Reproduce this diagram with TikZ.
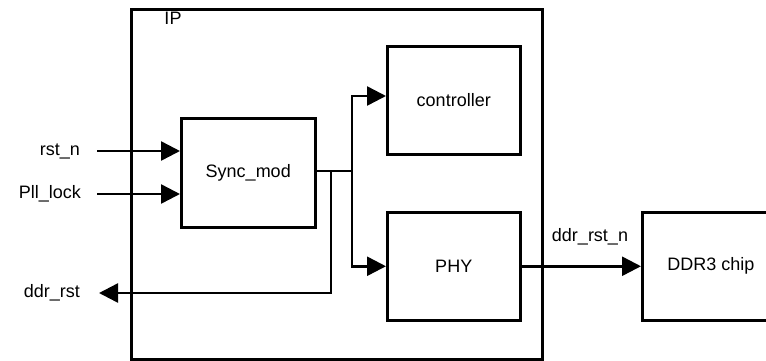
\documentclass[tikz,border=0pt]{standalone}
\usepackage{fontspec}
\setmainfont{Liberation Sans}
\usetikzlibrary{arrows.meta}
\begin{document}
\begin{tikzpicture}[x=1pt,y=-1pt,
  blk/.style={draw,line width=2.5pt,minimum width=133pt,minimum height=108pt,anchor=north west,inner sep=0pt},
  wire/.style={line width=2.5pt},
  arr/.style={wire,-{Triangle[length=19pt,width=19pt]}},
  lbl/.style={font=\fontsize{18}{21}\selectfont,inner sep=0pt}]
\useasboundingbox (0,0) rectangle (766,360);
\node[draw,line width=2.5pt,minimum width=411pt,minimum height=350pt,anchor=north west,inner sep=0pt] (ip) at (130,8) {};
\node[lbl] (iplbl) at (173,18) {IP};
\node[blk,minimum width=134pt,minimum height=109pt] (sync) at (180,117) {};
\node[lbl] at (sync.center) {Sync\_mod};
\node[blk] (ctrl) at (386,45) {};
\node[lbl] at (ctrl.center) {controller};
\node[blk] (phy) at (386,211) {};
\node[lbl] at (phy.center) {PHY};
\node[blk] (ddr) at (641,211) {};
\node[lbl] at (711,266) {DDR3 chip};
\node[lbl,anchor=east] (rstn) at (80,151) {rst\_n};
\node[lbl,anchor=east] (pll) at (81,194) {Pll\_lock};
\node[lbl,anchor=east] (ddrrst) at (80,293) {ddr\_rst};
\node[lbl] (ddrrstn) at (590,237) {ddr\_rst\_n};
\coordinate (rstnS) at (97,151);
\coordinate (pllS) at (97,194);
\coordinate (ddrrstE) at (99,293);
\coordinate (j1) at (331,171);
\coordinate (j2) at (352,171);
\draw[arr] (rstnS) -- (rstnS -| sync.west);
\draw[arr] (pllS) -- (pllS -| sync.west);
\draw[wire] (sync.east |- j1) -- (j2);
\draw[arr] (j2) |- (ctrl.west |- 0,96);
\draw[arr] (j2) |- (phy.west);
\draw[arr] (j1) |- (ddrrstE);
\draw[arr] (phy.east) -- (ddr.west);
\end{tikzpicture}
\end{document}
